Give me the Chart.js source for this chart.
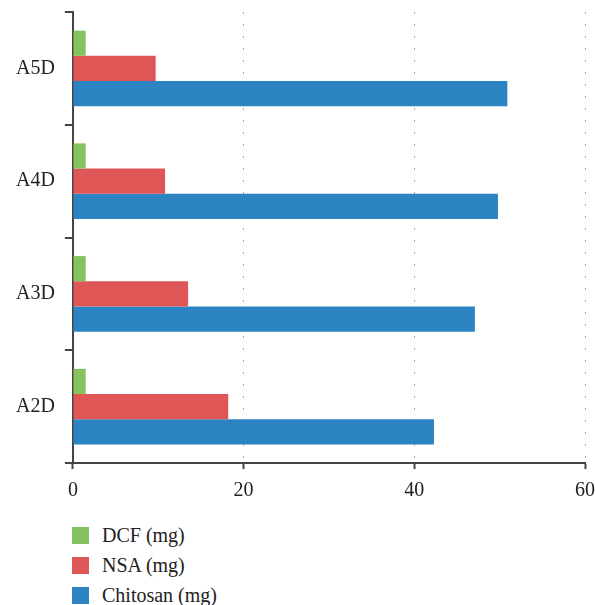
<!DOCTYPE html>
<html lang="en">
<head>
  <meta charset="UTF-8">
  <title>Bar Chart</title>
  <script src="https://cdn.jsdelivr.net/npm/chart.js"></script>
  <style>
    body { margin: 0; background: #fff; font-family: "Liberation Serif", serif; }
    #wrap { position: relative; width: 595px; height: 605px; overflow: hidden; }
    #chart { position: absolute; left: 0; top: 0; }
    #legend { position: absolute; left: 72px; top: 520px; }
    .item { display: flex; align-items: center; height: 30px; font-size: 20px; color: #222; }
    .box { width: 17px; height: 17px; margin-right: 13px; }
  </style>
</head>
<body>
  <div id="wrap">
    <canvas id="chart" width="595" height="513"></canvas>
    <div id="legend"></div>
  </div>

  <script>
    const categories = ['A5D', 'A4D', 'A3D', 'A2D'];
    const dcf = [1.5, 1.5, 1.5, 1.5];
    const nsa = [9.7, 10.8, 13.5, 18.2];
    const chitosan = [50.9, 49.8, 47.1, 42.3];
    const xTicks = [0, 20, 40, 60];

    const chart = new Chart(document.getElementById('chart').getContext('2d'), {
      type: 'bar',
      data: {
        labels: categories,
        datasets: [
          { label: 'DCF (mg)', data: dcf, backgroundColor: '#86c25e' },
          { label: 'NSA (mg)', data: nsa, backgroundColor: '#df5656' },
          { label: 'Chitosan (mg)', data: chitosan, backgroundColor: '#2b83c2' }
        ]
      },
      options: {
        indexAxis: 'y',
        responsive: false,
        animation: false,
        datasets: { bar: { barPercentage: 1, categoryPercentage: 0.67 } },
        layout: { padding: { top: 12, right: 10, left: 6, bottom: 0 } },
        plugins: { legend: { display: false }, tooltip: { enabled: false } },
        scales: {
          x: {
            min: xTicks[0],
            max: xTicks[xTicks.length - 1],
            afterBuildTicks: axis => { axis.ticks = xTicks.map(v => ({ value: v })); },
            afterFit: axis => { axis.paddingRight = 0; },
            ticks: { color: '#222', padding: 10, font: { family: 'Liberation Serif', size: 20 } },
            grid: { color: '#aaa', tickColor: '#444', tickLength: 6, tickWidth: 2 },
            border: { color: '#444', width: 2, dash: [2, 10] }
          },
          y: {
            afterFit: axis => { axis.paddingTop = 0; axis.paddingBottom = 0; },
            ticks: { color: '#222', padding: 10, font: { family: 'Liberation Serif', size: 20 } },
            grid: { drawOnChartArea: false, color: '#444', tickLength: 8, lineWidth: 2 },
            border: { color: '#444', width: 2 }
          }
        }
      }
    });

    const legend = document.getElementById('legend');
    chart.data.datasets.forEach(ds => {
      const row = document.createElement('div');
      row.className = 'item';
      row.innerHTML = '<span class="box" style="background:' + ds.backgroundColor + '"></span>' + ds.label;
      legend.appendChild(row);
    });
  </script>
</body>
</html>
